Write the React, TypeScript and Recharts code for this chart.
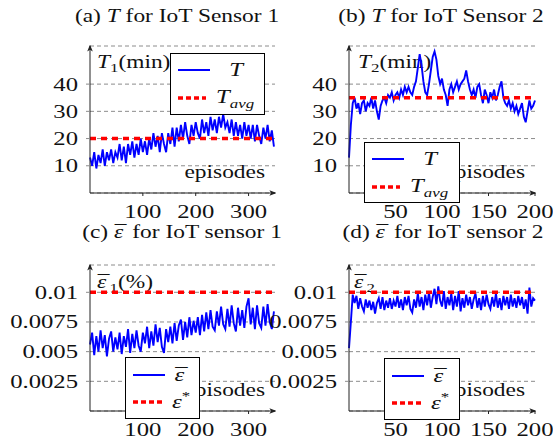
import type { ReactNode } from "react"
import { CartesianGrid, Customized, Legend, Line, LineChart, ReferenceLine, XAxis, YAxis } from "recharts"

// the figure was stretched sideways, so every text gets the same horizontal scale
const SX = 1.3
const FONT = "Liberation Serif, DejaVu Serif, serif"
const BLUE = "#0000ff"
const RED = "#ff0000"
const GRID = "#8c8c8c"
const AXIS = "#222"

// (a) T for IoT sensor 1, one value every 4 episodes
const STEP_1 = 4
const T_SENSOR_1 = [
  13, 10, 15, 9, 14, 11, 16, 10, 15, 12, 16, 11, 15,
  13, 18, 12, 17, 11, 18, 14, 19, 13, 18, 14, 20, 15,
  19, 14, 20, 16, 22, 17, 21, 15, 22, 18, 15, 22,
  18, 24, 17, 24, 19, 25, 20, 26, 21, 18, 25, 21, 26,
  22, 20, 27, 22, 26, 21, 28, 23, 27, 22, 28, 24,
  29, 24, 26, 22, 27, 21, 26, 21, 25, 20, 26, 21, 25,
  20, 25, 19, 25, 21, 18, 24, 20, 25, 19, 23, 17,
]
const T_AVG_1 = 20

// (b) T for IoT sensor 2, one value every 2 episodes
const STEP_2 = 2
const T_SENSOR_2 = [
  13, 25, 33, 35, 31, 33, 29, 33, 34, 30, 33, 32, 35, 31, 34, 30, 27, 32, 34, 35,
  33, 36, 35, 37, 34, 36, 37, 35, 38, 36, 39, 37, 39, 37, 36, 39, 41, 46, 51, 47,
  41, 37, 36, 40, 45, 50, 52, 49, 43, 40, 42, 38, 36, 32, 38, 40, 37, 39, 41, 38,
  40, 41, 42, 45, 41, 38, 36, 38, 35, 39, 40, 36, 33, 38, 36, 33, 37, 35, 38, 34,
  36, 39, 41, 35, 33, 32, 34, 31, 33, 30, 32, 29, 31, 33, 28, 26, 30, 34, 31, 32,
  34,
]
const T_AVG_2 = 35

// (c) mean error for IoT sensor 1, one value every 4 episodes
const EPS_SENSOR_1 = [
  0.0056, 0.0066, 0.0047, 0.0063, 0.005, 0.0068, 0.0053, 0.0064, 0.0046, 0.0061, 0.0067, 0.005, 0.0062,
  0.0052, 0.0066, 0.0048, 0.0063, 0.0054, 0.0069, 0.0049, 0.0065, 0.0053, 0.0068, 0.0055, 0.005, 0.0066,
  0.0057, 0.0071, 0.0053, 0.0067, 0.0055, 0.0073, 0.0058, 0.007, 0.0054, 0.0049, 0.0069, 0.0058,
  0.0071, 0.0057, 0.0074, 0.0059, 0.0072, 0.0077, 0.006, 0.0075, 0.0062, 0.0079, 0.0064, 0.0076, 0.0066,
  0.0079, 0.0064, 0.0081, 0.0067, 0.0083, 0.0069, 0.0085, 0.0071, 0.0068, 0.0084, 0.0072, 0.0088,
  0.0073, 0.0069, 0.0086, 0.0071, 0.0089, 0.0074, 0.0067, 0.0087, 0.0072, 0.0085, 0.007, 0.0088, 0.0095,
  0.0073, 0.0087, 0.0069, 0.0089, 0.0074, 0.007, 0.0088, 0.0072, 0.009, 0.0075, 0.0069, 0.0084,
]

// (d) mean error for IoT sensor 2, one value every 2 episodes
const EPS_SENSOR_2 = [
  0.0053, 0.0075, 0.0098, 0.0091, 0.0097, 0.0086, 0.0095, 0.0088, 0.0084, 0.0094,
  0.0087, 0.0093, 0.0085, 0.0092, 0.0082, 0.0091, 0.0095, 0.0086, 0.0096, 0.0085,
  0.0093, 0.0087, 0.0095, 0.0086, 0.0093, 0.0088, 0.0097, 0.0087, 0.0094, 0.0085,
  0.0096, 0.0089, 0.0097, 0.0086, 0.0083, 0.0094, 0.0087, 0.0099, 0.0088, 0.0096,
  0.0085, 0.0098, 0.0089, 0.01, 0.0087, 0.0096, 0.0103, 0.009, 0.0105, 0.0093,
  0.0088, 0.0101, 0.0086, 0.0096, 0.0089, 0.0099, 0.0085, 0.0097, 0.0088, 0.0101,
  0.0084, 0.0095, 0.0087, 0.0098, 0.0089, 0.0096, 0.0086, 0.0094, 0.0099, 0.0087,
  0.0095, 0.0085, 0.0097, 0.0088, 0.0098, 0.009, 0.0086, 0.0096, 0.0088, 0.0099,
  0.0087, 0.0095, 0.0085, 0.0097, 0.0089, 0.0096, 0.0086, 0.0098, 0.0088, 0.0095,
  0.0087, 0.0097, 0.0089, 0.0096, 0.0086, 0.0094, 0.0082, 0.0104, 0.0088, 0.0095,
  0.0093,
]
const EPS_TARGET = 0.01

const T_TICKS = [10, 20, 30, 40]
const EPS_TICKS = [0.0025, 0.005, 0.0075, 0.01]
const EP_TICKS_1 = [100, 200, 300]
const EP_TICKS_2 = [50, 100, 150, 200]

const toRows = (values: number[], step: number) => values.map((v, i) => ({ ep: i * step, v }))

function SText({ x, y, anchor = "start", size = 18, children }: { x: number; y: number; anchor?: string; size?: number; children: ReactNode }) {
  return (
    <text
      transform={`translate(${x} ${y}) scale(${SX} 1)`}
      textAnchor={anchor}
      fontFamily={FONT}
      fontSize={size}
      fill="#111"
      style={{ fontFamily: FONT }}
    >
      {children}
    </text>
  )
}

// italic epsilon with a bar on top (macron pulled back over the glyph)
const EpsBar = ({ s }: { s: number }) => (
  <>
    <tspan fontStyle="italic">ε</tspan>
    <tspan dx={-0.36 * s}>¯</tspan>
  </>
)

const XTick = ({ x, y, payload }: any) => (
  <SText x={x} y={y + 20} anchor="middle" size={19}>{String(payload.value)}</SText>
)

const YTick = ({ x, y, payload }: any) => (
  <SText x={x} y={y + 6.5} anchor="end" size={19}>{String(payload.value)}</SText>
)

function LegendT({ w, h }: { w: number; h: number }) {
  return (
    <svg width={w} height={h} style={{ display: "block" }}>
      <rect x={0.5} y={0.5} width={w - 1} height={h - 1} fill="#fff" stroke="#000" />
      <line x1={8} x2={40} y1={17} y2={17} stroke={BLUE} strokeWidth={2} />
      <SText x={66} y={23} anchor="middle" size={19}><tspan fontStyle="italic">T</tspan></SText>
      <line x1={8} x2={36} y1={45} y2={45} stroke={RED} strokeWidth={3.5} strokeDasharray="5 3" />
      <SText x={46} y={50} size={19}>
        <tspan fontStyle="italic">T</tspan>
        <tspan fontStyle="italic" fontSize={13} dy={5}>avg</tspan>
      </SText>
    </svg>
  )
}

function LegendEps({ w, h }: { w: number; h: number }) {
  return (
    <svg width={w} height={h} style={{ display: "block" }}>
      <rect x={0.5} y={0.5} width={w - 1} height={h - 1} fill="#fff" stroke="#000" />
      <line x1={8} x2={40} y1={18} y2={18} stroke={BLUE} strokeWidth={2} />
      <SText x={56} y={24} anchor="middle" size={19}><EpsBar s={19} /></SText>
      <line x1={8} x2={37} y1={45} y2={45} stroke={RED} strokeWidth={3.5} strokeDasharray="5 3" />
      <SText x={47} y={51} size={19}>
        <tspan fontStyle="italic">ε</tspan>
        <tspan fontSize={13} dy={-8}>*</tspan>
      </SText>
    </svg>
  )
}

type PanelProps = {
  left: number
  top: number
  width: number
  height: number
  margin: { top: number; right: number; bottom: number; left: number }
  values: number[]
  step: number
  xMax: number
  xTicks: number[]
  yMax: number
  yTicks: number[]
  target: number
  overlay: ReactNode
  legendBox: { left: number; top: number; w: number; h: number }
  legend: ReactNode
}

function Panel(p: PanelProps) {
  const rows = toRows(p.values, p.step)
  const lb = p.legendBox
  return (
    <div style={{ position: "absolute", left: p.left, top: p.top }}>
      <LineChart width={p.width} height={p.height} data={rows} margin={p.margin}>
        <CartesianGrid vertical={false} stroke={GRID} strokeDasharray="4 3" />
        <XAxis
          dataKey="ep"
          type="number"
          domain={[0, p.xMax]}
          ticks={p.xTicks}
          interval={0}
          height={25}
          tickSize={3}
          tickLine={{ stroke: AXIS }}
          axisLine={{ stroke: AXIS, markerEnd: "url(#axisArrow)" }}
          tick={(props: any) => <XTick {...props} />}
        />
        <YAxis
          type="number"
          domain={[0, p.yMax]}
          ticks={p.yTicks}
          interval={0}
          width={60}
          tickSize={4}
          tickMargin={8}
          tickLine={{ stroke: GRID }}
          axisLine={{ stroke: AXIS, markerStart: "url(#axisArrow)" }}
          tick={(props: any) => <YTick {...props} />}
        />
        <Line dataKey="v" type="linear" stroke={BLUE} strokeWidth={1.9} dot={false} isAnimationActive={false} />
        <ReferenceLine y={p.target} stroke={RED} strokeWidth={3.5} strokeDasharray="6 5" />
        <Customized component={() => <g>{p.overlay}</g>} />
        <Legend
          layout="horizontal"
          verticalAlign="middle"
          align="center"
          wrapperStyle={{ left: lb.left, top: lb.top, width: lb.w, height: lb.h }}
          content={() => p.legend}
        />
      </LineChart>
    </div>
  )
}

export default function App() {
  return (
    <div style={{ position: "absolute", left: 0, top: 0, width: 553, height: 442, background: "#fff", overflow: "hidden", fontFamily: FONT }}>
      <svg width={0} height={0} style={{ position: "absolute" }}>
        <defs>
          <marker id="axisArrow" viewBox="0 0 10 10" refX={8} refY={5} markerWidth={7} markerHeight={7} markerUnits="userSpaceOnUse" orient="auto-start-reverse">
            <path d="M0,1 L10,5 L0,9 L2.5,5 Z" fill={AXIS} />
          </marker>
        </defs>
      </svg>

      <Panel
        left={0}
        top={0}
        width={290}
        height={221}
        margin={{ top: 46, right: 15, bottom: 3, left: 30 }}
        values={T_SENSOR_1}
        step={STEP_1}
        xMax={350}
        xTicks={EP_TICKS_1}
        yMax={54}
        yTicks={T_TICKS}
        target={T_AVG_1}
        overlay={
          <>
            <SText x={177} y={22} anchor="middle">(a) <tspan fontStyle="italic">T</tspan> for IoT Sensor 1</SText>
            <SText x={97} y={68}>
              <tspan fontStyle="italic">T</tspan>
              <tspan fontSize={13} dy={4}>1</tspan>
              <tspan dy={-4}>(min)</tspan>
            </SText>
            <SText x={265} y={178} anchor="end">episodes</SText>
          </>
        }
        legendBox={{ left: 170, top: 53, w: 95, h: 62 }}
        legend={<LegendT w={95} h={62} />}
      />

      <Panel
        left={250}
        top={0}
        width={303}
        height={221}
        margin={{ top: 46, right: 18, bottom: 3, left: 39 }}
        values={T_SENSOR_2}
        step={STEP_2}
        xMax={200}
        xTicks={EP_TICKS_2}
        yMax={54}
        yTicks={T_TICKS}
        target={T_AVG_2}
        overlay={
          <>
            <SText x={191} y={22} anchor="middle">(b) <tspan fontStyle="italic">T</tspan> for IoT Sensor 2</SText>
            <SText x={108} y={68}>
              <tspan fontStyle="italic">T</tspan>
              <tspan fontSize={13} dy={4}>2</tspan>
              <tspan dy={-4}>(min)</tspan>
            </SText>
            <SText x={275} y={178} anchor="end">episodes</SText>
          </>
        }
        legendBox={{ left: 114, top: 142, w: 96, h: 61 }}
        legend={<LegendT w={96} h={61} />}
      />

      <Panel
        left={0}
        top={221}
        width={290}
        height={221}
        margin={{ top: 44, right: 15, bottom: 6, left: 30 }}
        values={EPS_SENSOR_1}
        step={STEP_1}
        xMax={350}
        xTicks={EP_TICKS_1}
        yMax={0.0123}
        yTicks={EPS_TICKS}
        target={EPS_TARGET}
        overlay={
          <>
            <SText x={182} y={17} anchor="middle">(c) <EpsBar s={18} /> for IoT sensor 1</SText>
            <SText x={97} y={67}>
              <EpsBar s={18} />
              <tspan fontSize={13} dy={4}>1</tspan>
              <tspan dy={-4}>(%)</tspan>
            </SText>
            <SText x={265} y={175} anchor="end">episodes</SText>
          </>
        }
        legendBox={{ left: 125, top: 136, w: 75, h: 62 }}
        legend={<LegendEps w={75} h={62} />}
      />

      <Panel
        left={250}
        top={221}
        width={303}
        height={221}
        margin={{ top: 44, right: 18, bottom: 6, left: 39 }}
        values={EPS_SENSOR_2}
        step={STEP_2}
        xMax={200}
        xTicks={EP_TICKS_2}
        yMax={0.0123}
        yTicks={EPS_TICKS}
        target={EPS_TARGET}
        overlay={
          <>
            <SText x={193} y={17} anchor="middle">(d) <EpsBar s={18} /> for IoT sensor 2</SText>
            <SText x={104} y={67}>
              <EpsBar s={18} />
              <tspan fontSize={13} dy={4}>2</tspan>
            </SText>
            <SText x={275} y={175} anchor="end">episodes</SText>
          </>
        }
        legendBox={{ left: 134, top: 137, w: 76, h: 62 }}
        legend={<LegendEps w={76} h={62} />}
      />
    </div>
  )
}
